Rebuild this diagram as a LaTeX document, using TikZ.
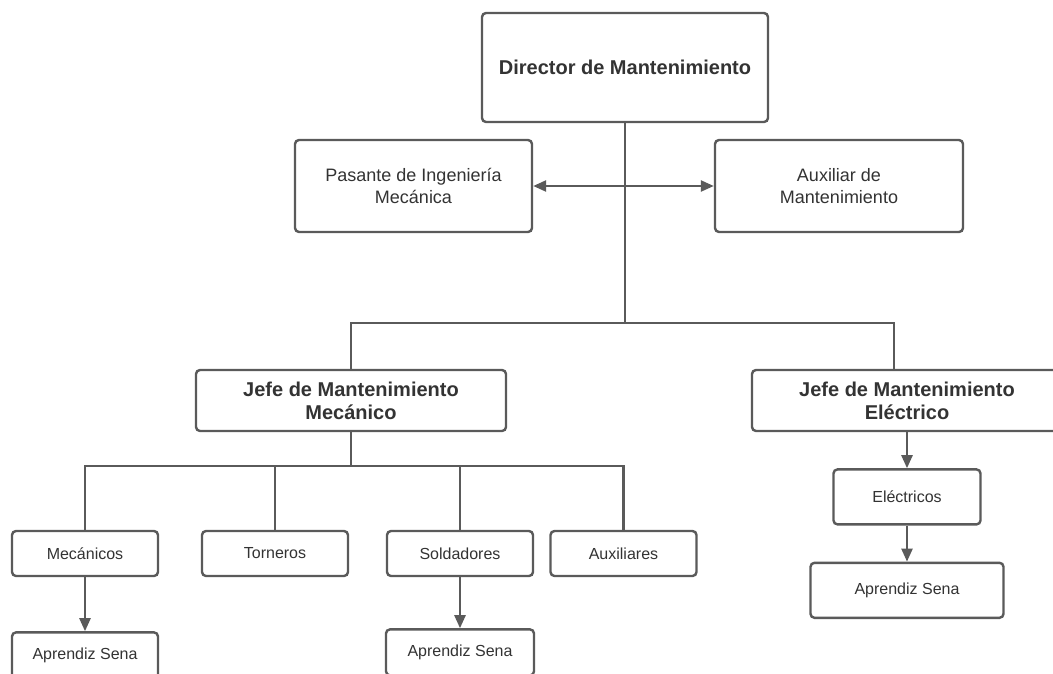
\documentclass[tikz,border=0pt]{standalone}
\usepackage{fontspec}
\setmainfont{Liberation Sans}
\usetikzlibrary{positioning,arrows.meta}
\definecolor{linegray}{HTML}{5A5A5A}
\definecolor{textgray}{HTML}{333333}

\begin{document}
\begin{tikzpicture}[x=1pt,y=-1pt,
	box/.style={draw=linegray, line width=2.4pt, rounded corners=4pt, fill=white,
		text=textgray, align=center, inner sep=0pt},
	bigbox/.style={box, font=\fontsize{20}{23}\selectfont\bfseries},
	midbox/.style={box, font=\fontsize{18}{22}\selectfont},
	smallbox/.style={box, font=\fontsize{16}{19}\selectfont, minimum width=146pt},
	line/.style={draw=linegray, line width=2.4pt},
	arrow/.style={line, -{Triangle[length=13pt,width=11pt]}}]
	\clip (0,0) rectangle (1053,673);
	\fill[white] (0,0) rectangle (1053,673);

	% top level
	\node[bigbox, minimum width=286pt, minimum height=109pt] (dir) at (625,67.5) {Director de Mantenimiento};
	\node[midbox, minimum width=237pt, minimum height=92pt] (pas) at (413.5,186) {Pasante de Ingeniería\\Mecánica};
	\node[midbox, minimum width=248pt, minimum height=92pt] (aux) at (839,186) {Auxiliar de\\Mantenimiento};

	% jefes
	\node[bigbox, minimum width=310pt, minimum height=61pt] (jm) at (351,400.5) {Jefe de Mantenimiento\\Mecánico};
	\node[bigbox, minimum width=310pt, minimum height=61pt] (je) at (907,400.5) {Jefe de Mantenimiento\\Eléctrico};

	% mecanico
	\node[smallbox, minimum height=45pt] (mec) at (85,553.5) {Mecánicos};
	\node[smallbox, minimum height=45pt] (tor) at (275,553.5) {Torneros};
	\node[smallbox, minimum height=45pt] (sol) at (460,553.5) {Soldadores};
	\node[smallbox, minimum height=45pt] (axs) at (623.5,553.5) {Auxiliares};
	\node[smallbox, minimum height=46pt, below=54pt of mec] (apm) {Aprendiz Sena};
	\node[smallbox, minimum width=148pt, minimum height=46pt, below=51pt of sol] (aps) {Aprendiz Sena};

	% electrico
	\node[smallbox, minimum width=147pt, minimum height=55pt, below=36pt of je] (ele) {Eléctricos};
	\node[smallbox, minimum width=193pt, minimum height=55pt, below=36pt of ele] (ape) {Aprendiz Sena};

	\coordinate (t) at (625,323);
	\coordinate (m) at (351,466);

	\begin{scope}[on background layer/.try]
	\draw[line] (dir.south) -- (t);
	\draw[line] (jm.north) |- (t) -| ([xshift=-13pt]je.north);
	\draw[line] (jm.south) -- (m);
	\draw[line] (mec.north) |- (m) -| (axs.north);
	\draw[line] (tor.north) -- (tor.north |- m);
	\draw[line] (sol.north) -- (sol.north |- m);
	\end{scope}

	\draw[arrow, {Triangle[length=13pt,width=11pt]}-{Triangle[length=13pt,width=11pt]}] (pas) -- (aux);
	\draw[arrow] (mec) -- (apm);
	\draw[arrow] (sol) -- (aps);
	\draw[arrow] (je) -- (ele);
	\draw[arrow] (ele) -- (ape);
\end{tikzpicture}
\end{document}
